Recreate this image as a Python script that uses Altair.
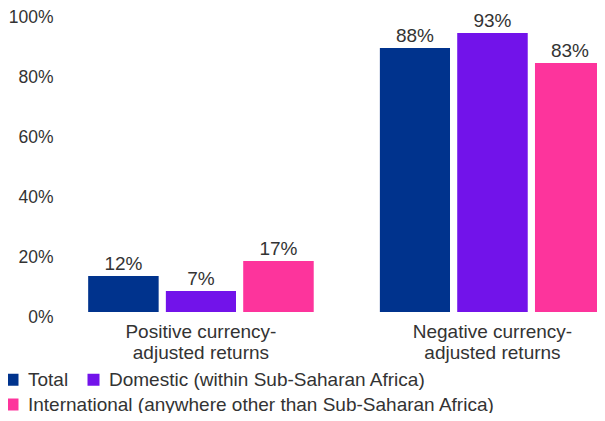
import altair as alt
import pandas as pd

categories = ["Positive currency-adjusted returns", "Negative currency-adjusted returns"]
series = ["Total", "Domestic (within Sub-Saharan Africa)",
          "International (anywhere other than Sub-Saharan Africa)"]
total_vals = [12, 88]
domestic_vals = [7, 93]
intl_vals = [17, 83]
colors = ["#00338D", "#7213EA", "#FD349C"]

rows = []
for i, c in enumerate(categories):
    for s, vals in zip(series, [total_vals, domestic_vals, intl_vals]):
        rows.append({"category": c, "series": s, "value": vals[i]})
df = pd.DataFrame(rows)

FONT = "Liberation Sans"
TXT = "#333333"

x_enc = alt.X("category:N", sort=categories, title=None,
              scale=alt.Scale(range=[28.4, 545], paddingInner=0.228, paddingOuter=0),
              axis=alt.Axis(labelAngle=0, domain=False, ticks=False, labelFont=FONT,
                            labelFontSize=19, labelColor=TXT, labelPadding=10,
                            labelLineHeight=21.5, labelBaseline="top",
                            labelExpr="[slice(datum.label,0,indexof(datum.label,'-')+1), slice(datum.label,indexof(datum.label,'-')+1)]"))
xo_enc = alt.XOffset("series:N", sort=series,
                     scale=alt.Scale(paddingInner=0.097, paddingOuter=0))
y_enc = alt.Y("value:Q", title=None,
              scale=alt.Scale(domain=[0, 100]),
              axis=alt.Axis(values=[0, 20, 40, 60, 80, 100], labelExpr="datum.value + '%'",
                            domain=False, ticks=False, grid=False, labelFont=FONT,
                            labelFontSize=17.5, labelColor=TXT, labelPadding=7,
                            labelOffset=5))

def legend(values, ly):
    return alt.Legend(title=None, orient="none", legendX=-57, legendY=ly,
                      direction="horizontal", values=values, padding=0,
                      symbolType="square", symbolSize=144, symbolStrokeWidth=0,
                      labelFont=FONT, labelFontSize=19, labelColor=TXT,
                      columnPadding=15, labelOffset=6, labelLimit=600)

bars1 = alt.Chart(df).mark_bar().encode(
    x=x_enc, xOffset=xo_enc, y=y_enc,
    color=alt.Color("series:N", sort=series,
                    scale=alt.Scale(domain=series, range=colors),
                    legend=legend(series[:2], 358))
)
bars2 = alt.Chart(df).mark_bar().encode(
    x=x_enc, xOffset=xo_enc, y=y_enc,
    color=alt.Color("series:N", sort=series,
                    scale=alt.Scale(domain=series, range=colors),
                    legend=legend(series[2:], 383))
)

labels = alt.Chart(df).transform_calculate(lbl="datum.value + '%'").mark_text(
    baseline="alphabetic", dy=-6, font=FONT, fontSize=19, color=TXT).encode(
    x=alt.X("category:N", sort=categories), xOffset=alt.XOffset("series:N", sort=series),
    y="value:Q", text="lbl:N",
)

chart = alt.layer(bars1, bars2, labels).resolve_scale(color="independent").properties(
    width=537, height=300,
    autosize=alt.AutoSizeParams(type="none"),
    padding={"left": 52, "right": 0, "top": 4, "bottom": 101},
).configure_view(stroke=None)

chart.save("out.html", embed_options={"renderer": "svg", "actions": False})
